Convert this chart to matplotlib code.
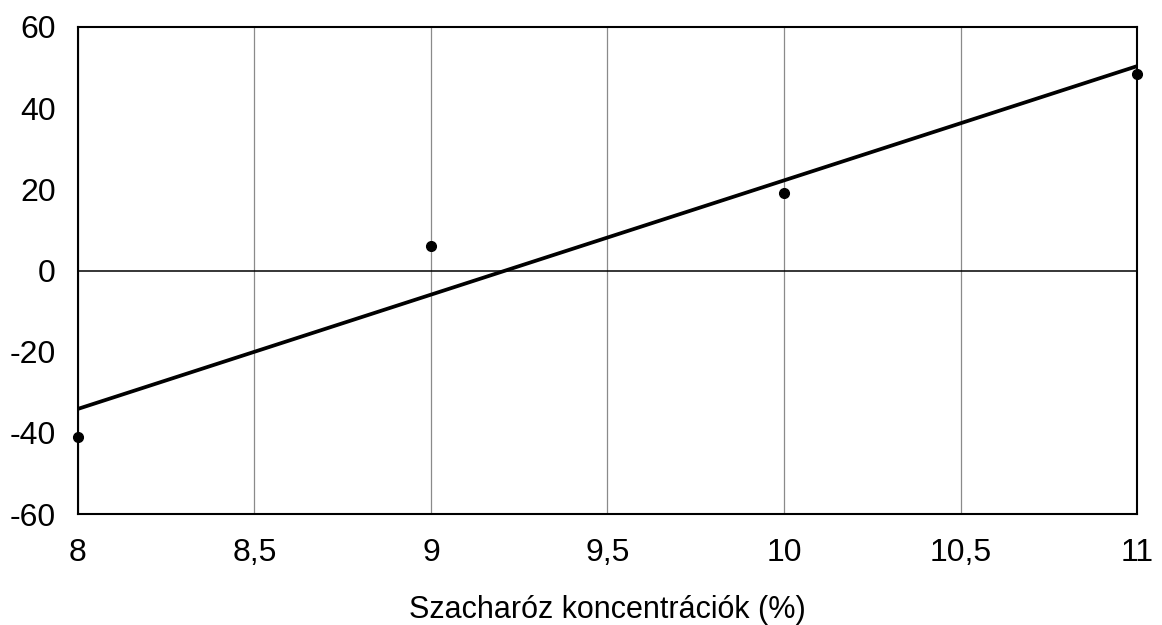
import numpy as np
import matplotlib.pyplot as plt

plt.rcParams['font.family'] = ['Liberation Sans', 'DejaVu Sans']
plt.rcParams['axes.unicode_minus'] = False

# measured points
conc = [8, 9, 10, 11]
values = [-41, 6, 19, 48.5]

x_ticks = [8, 8.5, 9, 9.5, 10, 10.5, 11]
x_tick_labels = ['8', '8,5', '9', '9,5', '10', '10,5', '11']
y_ticks = [-60, -40, -20, 0, 20, 40, 60]

fig = plt.figure(figsize=(11.62, 6.25), dpi=100)
ax = fig.add_axes([0.0671, 0.1776, 0.9114, 0.7792])

# linear trend line
slope, intercept = np.polyfit(conc, values, 1)
xs = np.array([conc[0], conc[-1]])
ax.plot(xs, slope * xs + intercept, color='black', lw=2.7, zorder=3)

ax.axhline(0, color='black', lw=1.1, zorder=2)
ax.plot(conc, values, 'o', color='black', markersize=7, clip_on=False, zorder=4)

ax.set_xlim(8, 11)
ax.set_ylim(-60, 60)
ax.set_xticks(x_ticks)
ax.set_xticklabels(x_tick_labels)
ax.set_yticks(y_ticks)
ax.tick_params(length=0, labelsize=23)
ax.tick_params(axis='y', pad=16)
ax.tick_params(axis='x', pad=17)
ax.grid(True, axis='x', color='#8a8a8a', lw=0.9)
for s in ax.spines.values():
    s.set_linewidth(1.5)

ax.set_xlabel('Szacharóz koncentrációk (%)', fontsize=22, labelpad=20)

fig.savefig('out.png', dpi=100)
